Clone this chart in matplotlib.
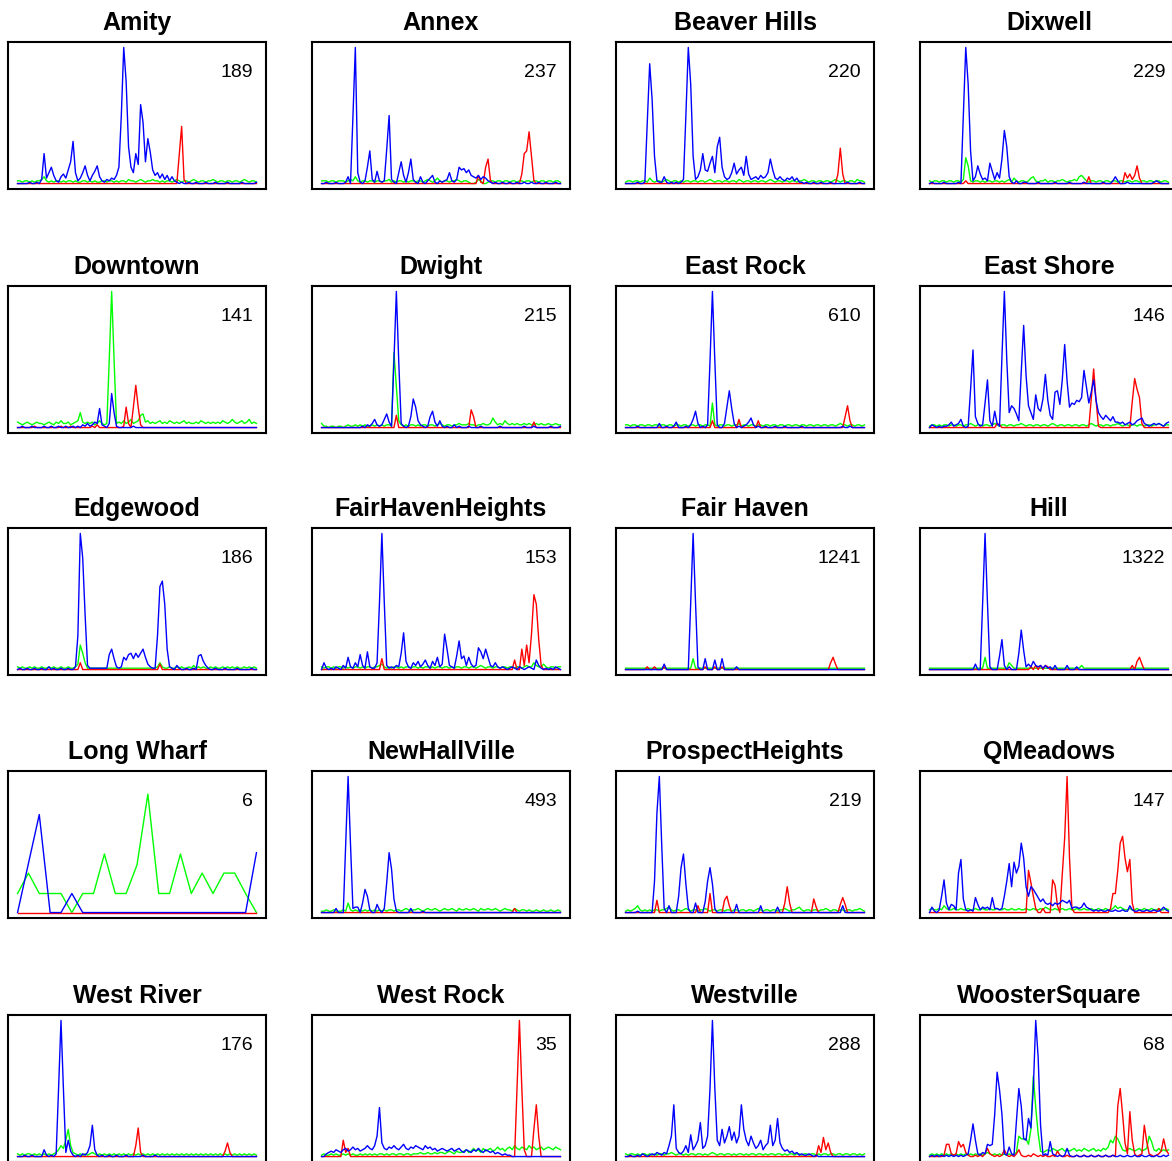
import numpy as np
import matplotlib.pyplot as plt

# neighbourhood names and the count printed in each panel
names = ['Amity', 'Annex', 'Beaver Hills', 'Dixwell',
         'Downtown', 'Dwight', 'East Rock', 'East Shore',
         'Edgewood', 'FairHavenHeights', 'Fair Haven', 'Hill',
         'Long Wharf', 'NewHallVille', 'ProspectHeights', 'QMeadows',
         'West River', 'West Rock', 'Westville', 'WoosterSquare']
totals = [189, 237, 220, 229, 141, 215, 610, 146, 186, 153,
          1241, 1322, 6, 493, 219, 147, 176, 35, 288, 68]

# series values (percent of panel height)
amity_blue = [0,0,0,0,0,1,0,0,1,0, 3,22,4,8,12,6,2,1,5,7, 4,10,16,31,8,2,4,8,13,6,
              2,6,9,13,5,2,1,3,2,4, 3,6,12,50,100,75,27,12,8,22, 14,58,45,16,33,23,10,6,8,4,
              7,3,6,2,5,2,1,0,1,0, 0,1,0,0,1,0,0,0,1,0, 0,0,1,0,0,0,0,1,0,0, 0,0,0,1,0,0,0,0,0,1]
amity_green = [2,2,1,2,2,1,2,1,2,2, 3,5,2,1,2,1,2,2,1,2, 1,2,2,1,2,1,1,2,2,1,
               2,1,2,1,1,2,2,1,2,2, 1,2,1,2,2,1,3,2,2,1, 2,3,2,1,2,2,3,2,2,1,
               2,1,2,2,1,2,3,2,1,2, 2,1,2,3,2,1,2,2,1,2, 2,3,2,1,2,2,1,2,2,1, 2,2,1,2,3,2,1,2,2,1]
amity_red = [0] * 67 + [21, 42, 3] + [0] * 30

annex_blue = [0,0,1,0,0,0,1,0,0,0, 1,5,0,49,100,8,1,0,2,12, 24,3,1,9,2,1,2,25,50,3,
              1,0,8,16,6,1,8,18,3,1, 0,5,1,0,2,4,6,1,0,2, 1,2,3,8,2,1,3,12,10,11,
              8,10,6,5,4,6,3,5,4,2, 1,0,1,0,0,1,0,0,1,0, 0,1,0,0,1,0,0,1,0,0, 1,0,0,1,0,0,0,1,0,0]
annex_green = [2,2,2,1,2,2,1,2,2,2, 1,2,3,2,5,2,1,2,2,1, 2,2,1,2,2,1,2,2,3,1,
               2,1,2,2,1,2,1,2,2,1, 2,2,1,2,3,2,1,2,4,2, 1,2,2,1,2,2,3,2,1,2,
               2,1,0,0,1,3,2,0,0,1, 2,2,1,2,2,1,2,2,1,2, 2,1,2,2,1,2,2,1,2,2, 1,2,2,1,2,2,1,2,2,1]
annex_red = [0] * 65 + [6, 1, 0, 12, 18, 2] + [0] * 12 + [7, 22, 24, 38, 20, 2] + [0] * 11

beaver_blue = [0,0,0,0,0,1,0,0,1,45, 88,62,20,2,1,1,5,1,0,1, 0,1,0,1,3,50,100,73,20,3,
               5,10,22,10,9,15,20,8,27,34, 12,5,3,4,8,15,7,10,12,6, 20,7,3,4,5,3,6,4,5,8,
               18,10,4,3,5,3,2,4,3,5, 2,4,1,1,0,1,0,0,1,0, 0,1,0,0,0,1,0,0,0,0, 0,0,1,0,0,0,0,1,0,0]
beaver_green = [1,2,2,1,2,2,1,2,2,1, 4,2,1,2,2,1,2,3,2,1, 2,2,1,2,1,2,2,1,2,2,
                1,2,2,1,2,3,2,1,2,2, 1,2,2,1,2,2,1,3,2,1, 2,2,1,2,2,1,2,2,1,2,
                3,2,1,2,2,1,2,2,1,2, 2,1,2,2,3,2,1,2,2,1, 2,2,1,2,2,1,2,3,2,1, 2,2,1,2,2,1,3,2,2,1]
beaver_red = [0] * 88 + [7, 26, 7] + [0] * 9

dixwell_blue = [0,1,0,0,0,0,1,0,0,0, 0,0,1,0,50,100,73,24,2,5, 13,7,3,4,2,15,9,3,8,4,
                18,39,27,5,1,0,2,0,0,1, 1,0,0,0,0,1,0,0,0,0, 0,0,1,0,0,0,0,0,1,0,
                0,0,0,0,1,0,0,0,0,0, 0,0,1,0,0,0,2,5,2,0, 0,0,1,0,0,0,0,0,0,0, 0,0,0,1,2,1,0,0,0,0]
dixwell_green = [2,1,2,2,1,2,2,1,2,2, 1,2,2,1,3,19,13,2,1,2, 2,1,2,1,2,2,1,2,2,1,
                 2,1,2,3,1,4,2,1,2,2, 1,2,4,5,2,1,2,2,3,1, 2,2,1,2,2,3,2,1,2,2,
                 3,2,5,6,4,2,1,2,2,1, 2,2,1,2,2,1,2,2,1,2, 2,1,2,2,1,2,2,1,2,2, 1,2,2,1,2,2,1,2,2,1]
dixwell_red = [0] * 15 + [2] + [0] * 50 + [5] + [0] * 14 + [8, 4, 7, 3, 6, 13, 4] + [0] * 12

downtown_blue = [0,0,1,0,0,0,1,0,0,0, 0,1,0,0,1,0,0,1,0,0, 1,0,0,1,0,1,0,2,1,3,
                 1,2,4,3,14,2,1,0,3,25, 11,1,0,0,0,0,0,0,1,0] + [0] * 50
downtown_green = [4,3,2,3,4,3,2,3,4,3, 3,2,3,4,3,2,4,3,5,3, 3,4,2,3,4,5,11,4,3,4,
                  3,4,2,3,5,3,2,3,50,100, 50,3,4,3,5,3,4,6,3,4, 5,9,10,4,5,3,4,3,4,5,
                  3,4,3,5,4,3,4,3,4,5, 3,4,3,3,4,3,5,4,3,4, 3,4,3,4,3,5,4,3,4,6, 4,3,4,5,3,4,6,3,4,3]
downtown_red = ([0] * 7 + [1] + [0] * 10 + [1] + [0] * 3 + [1] + [0] * 7
                + [0,1,0,2,0,0,0,0,0,0] + [0,0,0,0,1,15,3,0,15,31] + [15, 2] + [0] * 48)

dwight_blue = [0] * 17 + [1,0,2, 1,3,6,2,1,2,6,10,4,1, 49,100,48,3,1,0,1,8,21,15,
                          5,2,1,0,1,8,12,4,1,5, 1,0,1,0,0,2,0,1,0,0, 0,1,0,0,0,0,1,0,0,0,
                          0,0,0,0,1,0,0,0,0,0, 0,0,0,0,1,0,0,0,1,0, 0,0,0,0,0,1,0,0,0,1]
dwight_green = [3,1,1,0,1,1,0,1,1,0, 1,2,1,1,2,1,2,1,2,1, 1,2,1,2,1,2,1,2,2,1,
                55,30,5,2,1,2,1,2,2,1, 2,1,2,2,1,2,2,1,2,3, 2,1,2,2,1,2,2,3,2,2,
                2,3,2,2,1,2,2,3,2,2, 3,7,4,2,3,2,5,3,2,3, 2,3,2,2,3,2,3,2,2,3, 2,3,2,2,3,2,2,3,2,2]
dwight_red = [0] * 31 + [9] + [0] * 30 + [13, 8] + [0] * 24 + [4] + [0] * 11

eastrock_blue = [0,0,0,0,0,1,0,0,0,0, 0,0,0,0,3,0,0,1,0,0, 1,4,0,0,0,1,0,2,6,12,
                 3,0,1,0,2,49,100,49,2,0, 0,3,15,27,14,3,0,1,0,1, 2,4,7,2,0,1,0,0,1,0,
                 0,0,1,0,0,0,1,0,0,0, 0,0,0,1,0,0,0,0,0,0] + [0] * 10 + [1,0,0,1,0,0,0,0,0,0]
eastrock_green = [2,2,1,2,2,1,2,2,1,2, 2,1,2,2,1,2,2,1,2,2, 1,2,2,1,2,2,1,2,2,1,
                  2,2,1,2,2,1,18,2,1,2, 2,1,2,2,1,2,2,3,1,2, 2,1,2,2,1,2,2,1,2,2,
                  1,2,2,1,2,2,1,2,2,1, 2,2,1,2,2,1,2,2,1,2, 2,1,2,2,1,2,2,1,2,3, 2,2,1,2,2,1,2,2,1,2]
eastrock_red = [0] * 36 + [5] + [0] * 10 + [6] + [0] * 7 + [5] + [0] * 35 + [8, 16, 5] + [0] * 6

eastshore_blue = [0,2,1,0,1,0,1,1,2,4, 1,2,3,6,1,0,1,28,57,8, 3,1,2,18,35,5,1,12,3,1,
                  52,100,50,11,16,14,10,5,41,75, 38,16,11,6,24,14,12,21,39,20, 9,6,26,27,17,35,61,34,15,18,
                  17,20,19,22,42,30,18,26,35,20, 11,8,6,9,7,5,8,4,4,3, 4,2,3,4,2,3,5,6,7,3, 2,1,2,3,2,3,2,1,3,4]
eastshore_green = [1,2,2,1,2,1,2,2,1,2, 2,1,2,2,1,2,2,3,2,1, 2,2,1,2,2,1,2,3,2,1,
                   2,2,1,2,2,1,2,2,3,2, 1,2,2,1,2,2,1,2,2,1, 2,3,2,1,2,2,1,2,2,1,
                   2,2,1,2,2,1,2,3,2,1, 2,2,1,2,2,1,2,2,3,2, 1,2,2,1,2,2,1,2,2,1, 2,2,1,2,2,3,2,1,2,2]
eastshore_red = [0] * 28 + [3, 2] + [0] * 37 + [21, 43, 20, 1] + [0] * 13 + [19, 36, 28, 22, 3] + [0] * 11

edgewood_blue = [0,1,0,0,1,0,0,1,0,0, 1,0,0,2,0,1,0,0,1,0, 0,1,0,0,2,25,100,82,40,3,
                 1,1,1,1,1,1,1,1,11,15, 8,2,1,2,9,7,11,12,8,12, 9,12,15,9,4,2,1,1,25,61,
                 65,48,15,2,1,0,3,1,0,0, 1,0,0,1,0,10,11,6,3,1, 0,0,1,0,0,0,1,0,0,0, 0,1,0,0,0,0,0,1,0,0]
edgewood_green = [2,1,2,1,1,2,1,2,1,1, 2,1,1,2,1,2,1,1,2,1, 1,2,1,1,2,4,18,12,5,1,
                  1,1,1,1,1,1,1,1,1,1, 1,1,1,1,1,1,1,1,1,1, 1,1,1,1,1,1,1,1,2,5,
                  2,1,1,2,1,1,2,1,2,1, 1,2,1,3,1,2,1,2,1,1, 2,1,2,1,1,2,1,2,1,2, 1,2,1,1,2,1,2,1,2,1]
edgewood_red = [0] * 26 + [5] + [0] * 32 + [4] + [0] * 40

fhh_blue = [0,5,1,0,1,0,2,1,0,3, 1,9,2,1,5,2,11,3,1,13, 2,1,1,5,49,100,49,3,1,2,
            1,3,2,12,27,6,2,1,5,3, 6,2,4,7,3,1,6,3,9,2, 4,26,15,3,2,1,10,21,8,10,
            3,9,4,2,3,16,13,8,15,9, 3,2,5,2,1,2,1,0,1,2, 1,0,2,1,0,1,2,1,0,7, 3,1,0,1,0,1,0,2,1,0]
fhh_green = [2,1,2,2,1,2,1,2,2,1, 2,1,2,1,2,2,1,2,1,2, 2,1,2,2,3,4,2,1,2,1,
             2,2,1,2,1,2,2,1,2,2, 1,2,1,2,2,1,2,1,2,2, 1,2,2,1,2,1,2,2,1,2,
             2,1,2,2,1,2,3,2,1,2, 2,1,2,2,1,2,2,1,2,2, 1,2,2,1,2,3,2,2,5,3, 2,2,4,2,1,2,2,1,2,2]
fhh_red = [0] * 25 + [8] + [0] * 54 + [7, 0, 0, 15, 3, 18, 5, 26, 55, 48, 22, 3] + [0] * 8

fairhaven_blue = ([0] * 16 + [4] + [0] * 10 + [49, 100, 49, 2] + [0] * 2 + [8] + [0] * 3
                  + [7] + [0] * 2 + [8] + [0] * 5 + [2] + [0] * 53)
fairhaven_green = [1] * 28 + [8] + [1] * 71
fairhaven_red = ([0] * 9 + [2, 0, 0, 2, 0, 0, 0, 2] + [0] * 16 + [2, 0, 0, 0, 2, 0, 0, 2]
                 + [0] * 44 + [5, 9, 4] + [0] * 12)

hill_blue = [0] * 19 + [4,0,0,49,100,49,2,0,0,0, 10,22,3,0,2,0,0,0,12,29,
                        14,2,4,2,6,3,2,3,1,3, 1,2,0,3,0,0,0,0,3,0, 0,0,2,0,0,0,0,0,0,0] + [0] * 31
hill_green = [1] * 23 + [9] + [1] * 9 + [5, 3] + [1] * 28 + [3] + [1] * 36
hill_red = [0] * 42 + [2, 0, 3, 0, 3, 0, 3, 2] + [0] * 34 + [3, 0, 6, 9, 4] + [0] * 11

longwharf_blue = [0, 36, 72, 0, 0, 14, 0] + [0] * 15 + [44]
longwharf_green = [14, 29, 14, 14, 14, 0, 14, 14, 43, 14, 14, 35, 87, 14, 14, 43, 14, 29, 14, 29, 29, 14, 0]
longwharf_red = [0] * 23

newhall_blue = [0] * 6 + [3,0,0,0, 50,100,50,3,4,4,0,7,17,12, 2,0,0,6,2,0,3,22,44,32,
                          10,1,0,0,0,0,0,3,0,0, 0,0,1] + [0] * 57
newhall_green = [1,1,2,1,1,2,1,1,1,2, 1,7,2,1,2,1,2,1,2,1, 2,1,2,1,2,1,2,1,2,2,
                 1,2,2,1,2,3,2,1,2,2, 3,2,1,2,3,2,2,3,2,1, 2,3,2,2,3,2,1,3,2,2,
                 3,2,2,3,2,1,3,2,2,3, 2,2,3,2,1,2,3,2,2,1, 3,2,1,2,2,1,2,1,1,2, 1,1,2,1,1,2,1,1,2,1]
newhall_red = [0] * 80 + [3] + [0] * 19

prospect_blue = [0,0,0,0,0,1,0,0,0,0, 0,0,23,73,100,49,3,0,5,0, 0,0,12,33,43,21,3,0,0,7,
                 0,0,0,8,23,33,21,3,0,0, 0,0,0,0,0,0,6,0,0,0, 0,0,0,0,0,0,5,0,0,0,
                 0,0,0,4,0,0,0,0,0,0] + [0] * 20 + [5] + [0] * 9
prospect_green = [1,2,1,2,3,5,2,1,2,1, 2,1,2,2,1,2,2,3,4,2, 1,2,2,1,2,3,2,1,2,2,
                  1,2,2,3,2,1,2,2,1,2, 2,1,2,2,1,2,2,1,2,2, 1,2,2,1,2,3,2,1,2,2,
                  1,2,2,1,2,2,3,2,1,2, 2,3,4,2,1,2,2,1,2,2, 1,2,2,3,2,1,2,2,1,2, 2,1,2,2,1,2,2,3,2,1]
prospect_red = ([0] * 13 + [9] + [0] * 16 + [5] + [0] * 4 + [14] + [0] * 5 + [9, 12, 5]
                + [0] * 22 + [7, 19, 7] + [0] * 9 + [10, 4] + [0] * 9 + [6, 11, 6] + [0] * 8)

qmeadows_blue = [0,4,1,0,2,12,24,7,2,6, 5,2,29,39,10,2,1,2,1,11, 6,2,4,3,4,2,11,3,3,2,
                 3,12,23,36,19,37,29,34,51,40, 19,12,19,17,14,11,8,10,7,6, 7,5,7,6,7,9,8,7,9,3,
                 4,4,3,4,7,4,3,2,1,2, 1,2,1,1,2,1,1,2,1,1, 2,1,1,5,2,1,1,2,1,1, 2,1,1,2,1,1,2,4,2,1]
qmeadows_green = [2,3,2,2,3,2,5,3,2,2, 3,2,2,3,2,2,3,2,2,3, 2,2,3,2,2,3,2,2,3,2,
                  2,3,2,2,3,2,2,3,2,2, 3,2,2,3,2,2,3,2,4,3, 2,2,3,2,2,3,2,2,3,2,
                  2,3,2,2,3,2,2,3,2,2, 3,2,2,3,2,2,3,5,3,4, 3,2,2,3,2,2,3,2,2,3, 2,2,3,2,2,3,2,2,3,2]
qmeadows_red = ([0] * 41 + [31,22,12,3,0,0,3,0,0,0, 24,20,5,0,28,55,100,40,3] + [0] * 15
                + [3,14,14,31,51,56,40,30,39,7] + [0] * 10 + [3] + [0] * 4)

westriver_blue = [0,0,0,1,0,0,1,0,0,0, 0,5,1,0,1,0,2,50,100,50, 3,12,4,1,0,1,0,2,1,3,
                  8,23,5,1,0,1,0,0,1,0, 0,1,0,0,0,1,0,0,0,0, 0,0,1,0,0,0,0,1,0,0] + [0] * 40
westriver_green = [2,1,2,1,2,2,1,2,1,2, 1,2,1,2,1,2,3,5,8,6, 12,20,8,3,2,1,2,1,2,1,
                   2,3,2,1,2,1,2,1,2,1, 2,1,2,1,2,1,2,1,2,1, 2,1,2,1,2,1,2,1,2,1,
                   2,1,2,1,2,1,2,1,2,1, 2,1,2,1,2,1,2,1,2,1, 2,1,2,1,2,1,2,1,2,1, 2,1,2,1,2,1,2,1,2,1]
westriver_red = [0] * 49 + [8, 21, 3] + [0] * 34 + [4, 10, 3] + [0] * 11

westrock_blue = [0,0,2,3,4,3,5,4,3,5, 6,4,5,7,5,6,4,5,6,8, 6,5,8,15,36,10,6,5,7,6,
                 8,6,5,7,9,6,5,7,6,8, 7,6,5,8,6,7,5,6,4,5, 6,5,4,5,6,4,5,6,4,3,
                 5,4,3,5,4,6,4,3,5,4, 3,4,2,3,2,1,2,1,1,0] + [0] * 20
westrock_green = [1,2,1,1,2,1,2,1,1,2, 1,2,1,2,1,1,2,1,2,1, 2,1,2,1,2,2,1,2,1,2,
                  2,1,2,2,1,2,2,1,2,2, 2,3,2,2,3,2,2,3,2,3, 3,2,3,4,3,2,4,3,3,4,
                  5,3,4,6,4,5,3,6,4,5, 6,4,5,7,5,6,4,6,7,5, 8,6,5,7,6,5,8,6,7,5, 6,7,5,6,7,6,5,7,6,5]
westrock_red = [0] * 9 + [12, 3, 6] + [0] * 69 + [50, 100, 50, 5, 0, 0, 0, 20, 38, 15] + [0] * 9

westville_blue = [0,0,1,0,0,1,0,2,1,0, 1,2,1,3,2,1,3,2,8,15, 38,6,3,2,4,8,3,16,5,8,
                  12,25,6,8,15,50,100,50,12,8, 20,10,15,22,12,18,10,15,38,20, 12,8,15,10,6,8,12,5,8,10,
                  23,8,12,28,10,6,4,5,3,4, 2,3,1,2,1,1,2,1,0,1] + [0] * 20
westville_green = [2,1,2,2,1,2,1,2,2,1, 2,1,2,1,2,2,1,2,2,3, 2,1,2,2,1,2,1,2,2,1,
                   2,2,1,2,1,2,3,2,1,2, 2,1,2,2,1,2,1,2,2,1, 2,1,2,2,1,2,2,1,2,1,
                   2,2,1,2,2,1,2,1,2,2, 1,2,2,1,2,2,1,2,2,1, 2,1,2,2,1,2,2,1,2,2, 1,2,2,1,2,2,1,2,1,2]
westville_red = [0] * 80 + [8, 3, 14, 5, 10, 3] + [0] * 14

wooster_blue = [0,1,0,1,0,1,0,1,0,1, 0,1,0,1,0,1,2,12,24,12, 2,1,3,2,9,8,9,31,62,49,
                31,2,1,7,2,1,26,50,37,13, 12,28,21,50,100,73,23,1,2,1, 11,2,1,0,1,0,1,6,1,0,
                0,1,0,0,1,0,0,1,0,0, 1,0,0,1,0,0,1,0,0,1, 0,0,1,0,0,1,0,0,1,0, 0,1,0,0,1,0,0,1,0,1]
wooster_green = [1,2,1,2,1,2,1,2,1,2, 1,2,1,2,1,2,1,2,1,2, 1,2,1,2,3,2,1,2,1,2,
                 1,2,1,2,1,2,3,15,13,13, 13,9,20,59,36,17,4,3,4,5, 4,6,5,4,5,6,4,5,4,5,
                 6,4,5,4,6,5,4,5,6,4, 5,4,6,5,7,12,10,15,13,9, 5,4,5,6,5,4,5,6,4,5, 6,15,11,5,4,6,4,5,4,5]
wooster_red = [0,0,0,0,0,0,1,9,9,2, 1,2,11,7,9,3,1,0,0,1, 0,1,0,2,6,2,1,0,1,0,
               1,5,1,0,1,0,2,5,1,0, 0,1,0,2,1,0,1,0,1,0, 0,1,0,4,1,0,0,1,0,0,
               0,1,0,0,1,0,0,1,0,0, 1,0,0,1,0,0,1,0,37,50, 31,10,2,33,12,2,0,1,2,23, 11,2,1,0,1,2,4,13,5,2]

panels = [
    (amity_blue, amity_green, amity_red),
    (annex_blue, annex_green, annex_red),
    (beaver_blue, beaver_green, beaver_red),
    (dixwell_blue, dixwell_green, dixwell_red),
    (downtown_blue, downtown_green, downtown_red),
    (dwight_blue, dwight_green, dwight_red),
    (eastrock_blue, eastrock_green, eastrock_red),
    (eastshore_blue, eastshore_green, eastshore_red),
    (edgewood_blue, edgewood_green, edgewood_red),
    (fhh_blue, fhh_green, fhh_red),
    (fairhaven_blue, fairhaven_green, fairhaven_red),
    (hill_blue, hill_green, hill_red),
    (longwharf_blue, longwharf_green, longwharf_red),
    (newhall_blue, newhall_green, newhall_red),
    (prospect_blue, prospect_green, prospect_red),
    (qmeadows_blue, qmeadows_green, qmeadows_red),
    (westriver_blue, westriver_green, westriver_red),
    (westrock_blue, westrock_green, westrock_red),
    (westville_blue, westville_green, westville_red),
    (wooster_blue, wooster_green, wooster_red),
]

W, H = 1172, 1161
fig = plt.figure(figsize=(W / 100, H / 100), dpi=100)

col_left = [8, 312, 616, 920]
row_top = [42, 286, 528, 771, 1015]
box_w, box_h = 258, 147

for k, (blue, green, red) in enumerate(panels):
    r, c = divmod(k, 4)
    ax = fig.add_axes([col_left[c] / W, 1 - (row_top[r] + box_h) / H, box_w / W, box_h / H])
    for vals, col in ((green, '#00ff00'), (red, '#ff0000'), (blue, '#0000ff')):
        ax.plot(np.arange(len(vals)), vals, color=col, lw=1.0)
    n = max(len(blue), len(green), len(red)) - 1
    ax.set_xlim(-0.04 * n, 1.04 * n)
    ax.set_ylim(-4, 104)
    ax.set_xticks([])
    ax.set_yticks([])
    for s in ax.spines.values():
        s.set_linewidth(1.5)
        s.set_color('black')
    ax.text(0.5, 1.085, names[k], transform=ax.transAxes, ha='center', va='baseline',
            fontsize=18, fontweight='bold', family='Liberation Sans')
    ax.text(0.95, 0.764, str(totals[k]), transform=ax.transAxes, ha='right', va='baseline',
            fontsize=14, family='Liberation Sans')

fig.savefig('out.png', dpi=100)
